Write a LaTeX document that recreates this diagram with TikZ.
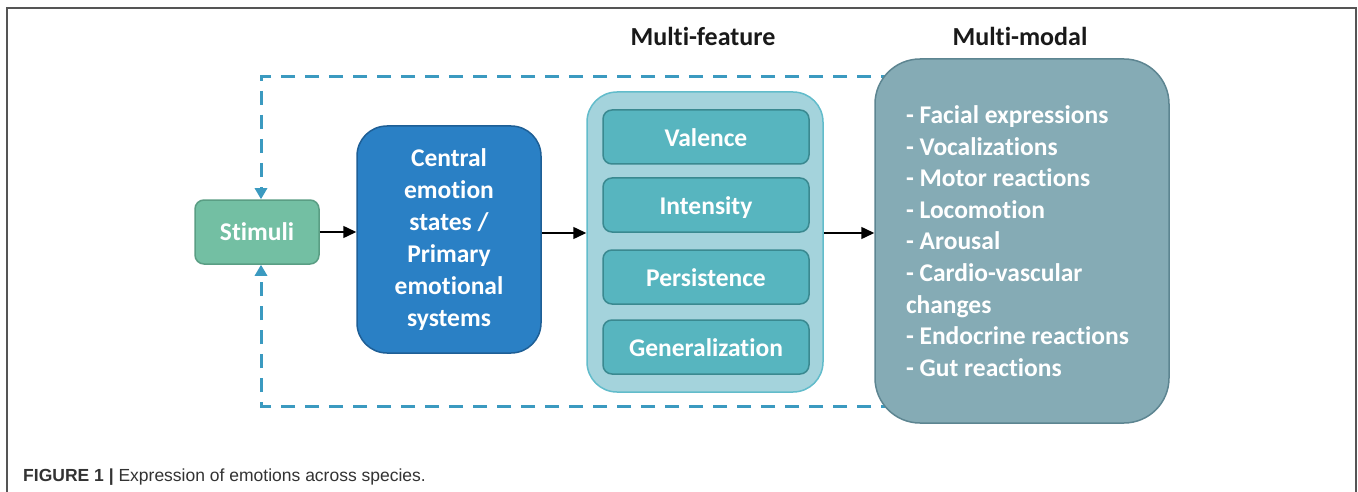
\documentclass[tikz,border=0pt]{standalone}
\usepackage{fontspec}
\setmainfont{Carlito}[Ligatures=NoCommon]
\newfontfamily\capfont{Liberation Sans}
\usetikzlibrary{arrows.meta}
\newcommand\tightspaces{\spaceskip=5.8pt plus 1pt minus 1pt\relax}
\definecolor{stimfill}{HTML}{73BFA3}
\definecolor{stimdraw}{HTML}{5A9E84}
\definecolor{cenfill}{HTML}{2A80C5}
\definecolor{cendraw}{HTML}{1E5F96}
\definecolor{outfill}{HTML}{A4D3DC}
\definecolor{outdraw}{HTML}{62BCCB}
\definecolor{infill}{HTML}{57B5BF}
\definecolor{indraw}{HTML}{3A8990}
\definecolor{mmfill}{HTML}{85ABB5}
\definecolor{mmdraw}{HTML}{5D8591}
\definecolor{dashcol}{HTML}{3B9AC0}
\definecolor{framecol}{HTML}{555555}
\tikzset{
  boxtext/.style={text=white, font=\bfseries\fontsize{25.5}{32}\selectfont, execute at begin node=\tightspaces},
  stimbox/.style={boxtext, fill=stimfill, draw=stimdraw, line width=1.5pt, rounded corners=9pt,
    minimum width=124pt, minimum height=64pt, inner sep=0pt},
  cenbox/.style={boxtext, fill=cenfill, draw=cendraw, line width=1.5pt, rounded corners=30pt,
    minimum width=184pt, minimum height=227pt, inner sep=0pt, align=center},
  outbox/.style={fill=outfill, draw=outdraw, line width=1.5pt, rounded corners=30pt,
    minimum width=236pt, minimum height=300pt, inner sep=0pt},
  featbox/.style={boxtext, fill=infill, draw=indraw, line width=1.5pt, rounded corners=9pt,
    minimum width=206pt, minimum height=54pt, inner sep=0pt, text height=21pt, text depth=2pt},
  mmbox/.style={boxtext, fill=mmfill, draw=mmdraw, line width=1.5pt, rounded corners=45pt,
    minimum width=294pt, minimum height=364pt, inner xsep=31pt, text width=232pt, align=left,
    font=\bfseries\fontsize{25.5}{31.6}\selectfont},
  title/.style={text=black!90, font=\bfseries\fontsize{26}{30}\selectfont},
  flow/.style={line width=1.5pt, -{Triangle[length=13pt,width=12pt]}},
  fb/.style={dashcol, line width=3pt, dash pattern=on 14pt off 10pt, -{Triangle[length=11pt,width=12pt]}},
  framestyle/.style={framecol, line width=2pt}
}
\begin{document}
\begin{tikzpicture}[x=1pt,y=-1pt]
\useasboundingbox (0,0) rectangle (1358,492);
\fill[white] (0,0) rectangle (1358,492);
% frame
\coordinate (fbl) at (7,492);
\coordinate (ftl) at (7,8);
\coordinate (ftr) at (1356,8);
\coordinate (fbr) at (1356,492);
\draw[framestyle] (fbl) -- (ftl) -- (ftr) -- (fbr);
% titles
\node[title] (t1) at (703,36) {Multi-feature};
\node[title] (t2) at (1020,36) {Multi-modal};
% stimuli
\node[stimbox] (stim) at (257,232) {Stimuli};
% feedback dashed lines
\coordinate (dtop) at (895,77);
\coordinate (dbot) at (895,406);
\draw[fb] (dtop) -| ([xshift=4pt]stim.north);
\draw[fb] (dbot) -| ([xshift=4pt]stim.south);
% central
\node[cenbox] (cen) at (449,239.5) {Central\\emotion\\states /\\Primary\\emotional\\systems};
% multi-feature
\node[outbox] (out) at (705,242) {};
\node[featbox] (val) at (706,137) {Valence};
\node[featbox] (int) at (706,205) {Intensity};
\node[featbox] (per) at (706,277) {Persistence};
\node[featbox] (gen) at (706,347) {Generalization};
% multi-modal
\node[mmbox] (mm) at (1022,241) {- Facial expressions\\- Vocalizations\\- Motor reactions\\- Locomotion\\- Arousal\\- Cardio-vascular\\changes\\- Endocrine reactions\\- Gut reactions};
% flow arrows
\draw[flow] (stim.east) -- (stim.east -| cen.west);
\draw[flow] (cen.east |- 0,233) -- (out.west |- 0,233);
\draw[flow] (out.east |- 0,233) -- (mm.west |- 0,233);
% caption
\node[anchor=base west, inner sep=0pt, font=\capfont\fontsize{17.5}{20}\selectfont, text=black!80] (cap) at (23,481)
  {\textbf{FIGURE 1 |} Expression of emotions across species.};
\end{tikzpicture}
\end{document}
